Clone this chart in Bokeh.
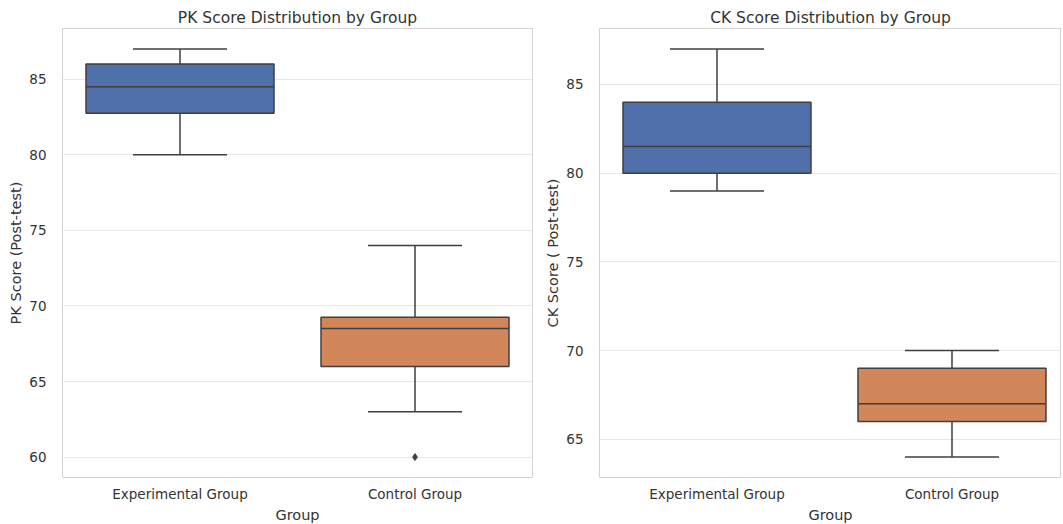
from bokeh.plotting import figure
from bokeh.layouts import row
from bokeh.models import Range1d, FixedTicker
from bokeh.embed import file_html
from bokeh.resources import INLINE

# ---- data ----
groups = ["Experimental Group", "Control Group"]
box_colors = ["#4F70AB", "#D2875B"]

pk_low = [80, 63]
pk_q1 = [82.75, 66]
pk_median = [84.5, 68.5]
pk_q3 = [86, 69.25]
pk_high = [87, 74]
pk_outlier_group = ["Control Group"]
pk_outlier_value = [60]

ck_low = [79, 64]
ck_q1 = [80, 66]
ck_median = [81.5, 67]
ck_q3 = [84, 69]
ck_high = [87, 70]
ck_outlier_group = []
ck_outlier_value = []

pk_ticks = [60, 65, 70, 75, 80, 85]
ck_ticks = [65, 70, 75, 80, 85]

FONT = "DejaVu Sans"
TEXT = "#333333"
LINE = "#3f3f3f"


def make_panel(title, ylabel, low, q1, med, q3, high, og, ov, ticks, yr, xr,
               frame_w, mbl, mbr):
    p = figure(x_range=Range1d(*xr), y_range=Range1d(*yr),
               output_backend="svg", toolbar_location=None,
               frame_width=frame_w, frame_height=449,
               min_border_left=mbl, min_border_right=mbr,
               min_border_top=28, min_border_bottom=46)
    xs = list(range(len(groups)))
    # whiskers
    p.segment(x0=xs, y0=low, x1=xs, y1=q1, line_color=LINE, line_width=1.5)
    p.segment(x0=xs, y0=q3, x1=xs, y1=high, line_color=LINE, line_width=1.5)
    # caps
    cap_l = [x - 0.2 for x in xs]
    cap_r = [x + 0.2 for x in xs]
    p.segment(x0=cap_l, y0=low, x1=cap_r, y1=low, line_color=LINE, line_width=1.5)
    p.segment(x0=cap_l, y0=high, x1=cap_r, y1=high, line_color=LINE, line_width=1.5)
    # boxes
    p.vbar(x=xs, width=0.8, bottom=q1, top=q3, fill_color=box_colors,
           line_color=LINE, line_width=1.5)
    # medians
    p.segment(x0=[x - 0.4 for x in xs], y0=med, x1=[x + 0.4 for x in xs], y1=med,
              line_color=LINE, line_width=1.5)
    # outliers
    if ov:
        ox = [groups.index(g) for g in og]
        p.scatter(x=ox, y=ov, marker="diamond", size=7, fill_color=LINE,
                  line_color=LINE)

    p.title.text = title
    p.title.align = "center"
    p.title.text_font = FONT
    p.title.text_font_size = "15.5px"
    p.title.text_font_style = "normal"
    p.title.text_color = TEXT
    p.title.standoff = 4

    p.xaxis.ticker = FixedTicker(ticks=xs)
    p.xaxis.major_label_overrides = {i: g for i, g in enumerate(groups)}
    p.yaxis.ticker = FixedTicker(ticks=ticks)
    p.xaxis.axis_label = "Group"
    p.yaxis.axis_label = ylabel
    for ax in (p.xaxis[0], p.yaxis[0]):
        ax.axis_line_color = None
        ax.major_tick_line_color = None
        ax.minor_tick_line_color = None
        ax.major_label_text_font = FONT
        ax.major_label_text_font_size = "13.5px"
        ax.major_label_text_color = TEXT
        ax.axis_label_text_font = FONT
        ax.axis_label_text_font_size = "14.5px"
        ax.axis_label_text_font_style = "normal"
        ax.axis_label_text_color = TEXT
    p.xaxis.major_label_standoff = 2
    p.xaxis.axis_label_standoff = 2
    p.yaxis.major_label_standoff = 10
    p.yaxis.axis_label_standoff = 2

    p.xgrid.visible = False
    p.ygrid.grid_line_color = "#e8e8e8"
    p.ygrid.grid_line_width = 1
    p.outline_line_color = "#d4d4d4"
    p.outline_line_width = 1
    p.background_fill_color = "white"
    p.border_fill_color = "white"
    return p


p1 = make_panel("PK Score Distribution by Group", "PK Score (Post-test)",
                pk_low, pk_q1, pk_median, pk_q3, pk_high,
                pk_outlier_group, pk_outlier_value, pk_ticks,
                (58.65, 88.35), (-0.5, 1.5), 470, 62, 7)
p2 = make_panel("CK Score Distribution by Group", "CK Score ( Post-test)",
                ck_low, ck_q1, ck_median, ck_q3, ck_high,
                ck_outlier_group, ck_outlier_value, ck_ticks,
                (62.85, 88.15), (-0.5, 1.466), 462, 60, 0)

layout = row(p1, p2)
open("out.html", "w").write(file_html(layout, INLINE))
